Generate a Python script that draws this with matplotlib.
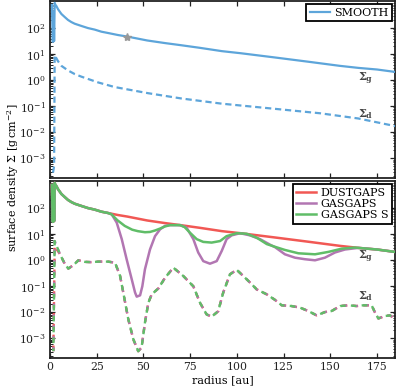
import numpy as np
import matplotlib
matplotlib.use("Agg")
import matplotlib.pyplot as plt
from matplotlib.ticker import LogLocator, NullFormatter, FixedLocator

plt.rcParams['font.family'] = ['DejaVu Serif']
plt.rcParams['mathtext.fontset'] = 'dejavuserif'

# ---------------- data ----------------
# radius [au]
r_smooth = [1.0, 1.5, 2.0, 2.2, 2.5, 2.85, 3.4, 4.3, 6.1, 7.9, 9.6, 11.4, 13.2,
            16.8, 20.3, 23.9, 27.5, 31.0, 36.4, 41.4, 52.0, 61.5, 70.0, 80.0,
            92.0, 102.0, 120.0, 138.0, 155.0, 165.0, 175.0, 184.6]
gas_smooth = [790, 30, 400, 32, 950, 810, 720, 540, 355, 270, 210, 174, 150,
              123, 102, 89, 74, 66, 55, 48, 34, 27, 22.4, 17.8,
              13.2, 11.0, 7.6, 5.2, 3.6, 3.0, 2.6, 2.1]

r_dust_smooth = [1.6, 2.2, 2.5, 3.4, 4.3, 6.1, 9.6, 13.2, 16.8, 25.7, 34.6,
                 52.4, 70.3, 92.0, 118.0, 144.5, 165.0, 184.6]
dust_smooth = [2.8e-4, 5e-4, 9.3, 7.1, 5.4, 3.6, 2.4, 1.74, 1.38, 0.83, 0.55,
               0.32, 0.20, 0.126, 0.083, 0.054, 0.034, 0.0174]

# gas profiles with gaps (inner part r <= 31 au and outer part r >= 165 au
# coincide with the smooth profile)
r_gasgaps_mid = [33.0, 35.7, 38.4, 41.0, 43.7, 45.5, 46.4, 48.2, 49.4, 50.8,
                 53.5, 56.2, 58.9, 61.5, 64.2, 69.6, 73.1, 76.7, 79.3, 82.0,
                 85.6, 89.2, 91.9, 94.5, 97.2, 101.7, 107.0, 112.4, 117.7,
                 120.4, 125.7, 131.1, 136.4, 141.8, 147.1, 152.5, 157.8, 163.2]
gas_gasgaps_mid = [59, 28, 6.5, 1.1, 0.19, 0.058, 0.040, 0.045, 0.10, 0.45,
                   2.6, 8.5, 15.5, 21, 22.5, 22.5, 18, 6.5, 2.0, 0.93,
                   0.74, 0.93, 2.3, 6.5, 9.1, 11.0, 9.1, 6.5, 4.0,
                   3.2, 1.7, 1.26, 1.1, 1.0, 1.26, 2.0, 2.6, 2.9]

r_gasgapss_mid = [33.0, 36.0, 40.0, 44.0, 47.0, 50.8, 53.5, 56.2, 58.9, 61.5,
                  64.2, 69.6, 72.0, 74.9, 78.5, 82.0, 86.5, 91.0, 94.5, 99.9,
                  105.2, 110.6, 116.0, 120.4, 125.7, 132.9, 141.8, 148.9,
                  156.1, 163.2]
gas_gasgapss_mid = [58, 35, 21, 15, 13.2, 12, 12.3, 14, 16.6, 20,
                    22.5, 22.5, 19, 11.5, 6.5, 5.1, 4.8, 5.5, 8.5, 11,
                    10.5, 7.4, 4.2, 3.3, 2.5, 1.86, 1.7, 2.1,
                    2.8, 3.1]

# dust profile of the gap models (identical for the three models)
r_dust_gaps = [5.35, 8.0, 9.8, 12.5, 15.2, 18.7, 22.0, 26.0, 31.0, 34.8, 37.5,
               39.2, 41.9, 44.6, 47.2, 49.0, 50.8, 52.6, 54.4, 58.0, 61.5, 66.0,
               71.3, 76.7, 80.3, 83.8, 86.5, 90.0, 92.7, 96.3, 99.9, 103.4,
               107.0, 110.6, 116.0, 120.4, 124.0, 129.3, 133.8, 138.2, 142.7,
               147.1, 150.7, 155.2, 159.6, 164.1, 167.6, 172.1, 173.9, 175.7,
               179.2, 181.9, 184.6]
dust_gaps = [1.7, 0.71, 0.48, 0.65, 1.0, 0.87, 0.85, 0.89, 0.89, 0.81, 0.25,
             0.058, 0.0054, 9.1e-4, 3.2e-4, 4.4e-4, 0.004, 0.023, 0.049, 0.083,
             0.21, 0.52, 0.25, 0.10, 0.023, 0.0083, 0.0068, 0.011, 0.058, 0.29,
             0.43, 0.25, 0.14, 0.076, 0.049, 0.030, 0.0186, 0.0174, 0.0151,
             0.0112, 0.0076, 0.0102, 0.0112, 0.0174, 0.0186, 0.0174, 0.0186,
             0.0186, 0.0098, 0.0058, 0.0072, 0.0076, 0.0058]
r_dust_start = [1.8, 2.5]
dust_start_dustgaps = [3.2e-4, 3.5]
dust_start_gasgaps = [3.2e-4, 5.5]

labels_bottom = ["DUSTGAPS", "GASGAPS", "GASGAPS S"]
star_r = 41.4
star_val = 48

xticks = [0, 25, 50, 75, 100, 125, 150, 175]
yticks = [1e-3, 1e-2, 1e-1, 1e0, 1e1, 1e2]

# ---------------- styles ----------------
BLUE = "#5DA5DA"
RED = "#F15854"
PURPLE = "#B276B2"
GREEN = "#60BD68"

r_s = np.array(r_smooth)
g_s = np.array(gas_smooth)
inner = r_s <= 31.0
outer = r_s >= 165.0

r_gg = np.concatenate([r_s[inner], r_gasgaps_mid, r_s[outer]])
g_gg = np.concatenate([g_s[inner], gas_gasgaps_mid, g_s[outer]])
r_ggs = np.concatenate([r_s[inner], r_gasgapss_mid, r_s[outer]])
g_ggs = np.concatenate([g_s[inner], gas_gasgapss_mid, g_s[outer]])

r_dg_red = np.concatenate([r_dust_start, r_dust_gaps])
d_dg_red = np.concatenate([dust_start_dustgaps, dust_gaps])
r_dg = np.concatenate([r_dust_start, r_dust_gaps])
d_dg = np.concatenate([dust_start_gasgaps, dust_gaps])

fig = plt.figure(figsize=(3.98, 3.92), dpi=100)
W, H = 398.0, 392.0
ax1 = fig.add_axes([50 / W, 1 - 178 / H, 345 / W, 177 / H])
ax2 = fig.add_axes([50 / W, 1 - 358 / H, 345 / W, 177 / H])

lw = 1.6
ax1.plot(r_smooth, gas_smooth, color=BLUE, lw=lw, label="SMOOTH", zorder=3)
ax1.plot(r_dust_smooth, dust_smooth, color=BLUE, lw=lw,
         linestyle=(0, (2.8, 1.7)), zorder=3)
ax1.plot([star_r], [star_val], marker="*", color="#999999", ms=6, zorder=4,
         linestyle="none")

ax2.plot(r_smooth, gas_smooth, color=RED, lw=1.8, label=labels_bottom[0], zorder=3)
ax2.plot(r_gg, g_gg, color=PURPLE, lw=1.8, label=labels_bottom[1], zorder=3)
ax2.plot(r_ggs, g_ggs, color=GREEN, lw=1.8, label=labels_bottom[2], zorder=3)
ax2.plot(r_dg_red, d_dg_red, color=RED, lw=1.7, linestyle=(0.0, (2.4, 2.2)), zorder=3)
ax2.plot(r_dg, d_dg, color=PURPLE, lw=1.7, linestyle=(0.6, (2.4, 2.2)), zorder=3)
ax2.plot(r_dg, d_dg, color=GREEN, lw=1.7, linestyle=(1.2, (2.4, 2.2)), zorder=3)

for ax in (ax1, ax2):
    ax.set_yscale("log")
    ax.set_xlim(0, 184.6)
    ax.set_ylim(1.75e-4, 1.12e3)
    ax.xaxis.set_major_locator(FixedLocator(xticks))
    ax.yaxis.set_major_locator(FixedLocator(yticks))
    ax.yaxis.set_minor_locator(LogLocator(base=10, subs=np.arange(2, 10)))
    ax.yaxis.set_minor_formatter(NullFormatter())
    ax.tick_params(which="both", direction="in", top=True, right=True,
                   labelsize=7.8, colors="#222222", pad=3)
    ax.tick_params(which="major", length=3.5, width=0.9)
    ax.tick_params(which="minor", length=1.8, width=0.7)
    for sp in ax.spines.values():
        sp.set_linewidth(1.3)
        sp.set_color("#222222")

ax1.tick_params(labelbottom=False)
ax2.set_xticklabels([str(t) for t in xticks])
ax2.set_xlabel("radius [au]", fontsize=8, labelpad=2)
fig.text(13 / W, 1 - 178 / H, r"surface density $\Sigma$ [g$\,$cm$^{-2}$]",
         rotation=90, ha="center", va="center", fontsize=8)

leg_kw = dict(loc="upper right", fontsize=8, frameon=True, fancybox=False,
              edgecolor="black", framealpha=1, borderpad=0.3,
              labelspacing=0.12, handlelength=1.8, handletextpad=0.4,
              borderaxespad=0.3)
l1 = ax1.legend(**leg_kw)
l1.get_frame().set_linewidth(1.3)
l2 = ax2.legend(**leg_kw)
l2.get_frame().set_linewidth(1.3)

ax1.text(169, 1.12, r"$\mathbf{\Sigma_g}$", color="#444444", fontsize=8,
         ha="center", va="center")
ax1.text(169, 0.05, r"$\mathbf{\Sigma_d}$", color="#444444", fontsize=8,
         ha="center", va="center")
ax2.text(169, 1.4, r"$\mathbf{\Sigma_g}$", color="#444444", fontsize=8,
         ha="center", va="center")
ax2.text(169, 0.042, r"$\mathbf{\Sigma_d}$", color="#444444", fontsize=8,
         ha="center", va="center")

fig.savefig("out.png", dpi=100)
